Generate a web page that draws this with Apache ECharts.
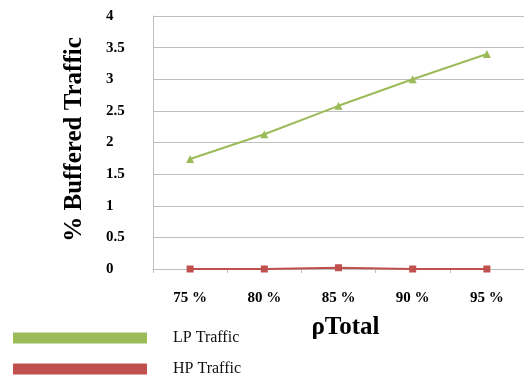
<!DOCTYPE html>
<html>
<head>
<meta charset="utf-8">
<script src="https://cdn.jsdelivr.net/npm/echarts@6/dist/echarts.min.js"></script>
<style>
  html, body { margin: 0; padding: 0; background: #fff; }
  #chart { width: 524px; height: 383px; }
</style>
</head>
<body>
<div id="chart"></div>
<script>
// Offered load categories and buffered traffic percentages
const loadLabels = ['75 %', '80 %', '85 %', '90 %', '95 %'];
const lpTraffic = [1.74, 2.13, 2.58, 3.0, 3.4];
const hpTraffic = [0.0, 0.0, 0.02, 0.0, 0.0];
const yTicks = { min: 0, max: 4, interval: 0.5 };

const serif = '"Liberation Serif", "Times New Roman", serif';
const chart = echarts.init(document.getElementById('chart'));

// One legend row per series, stacked at the bottom-left
function legendRow(name, top) {
  return {
    orient: 'horizontal',
    left: 8,
    top: top,
    icon: 'rect',
    itemWidth: 134,
    itemHeight: 11,
    textStyle: { fontFamily: serif, fontSize: 16, color: '#111', padding: [0, 0, 0, 21] },
    data: [name]
  };
}

chart.setOption({
  animation: false,
  grid: { left: 153, right: 0, top: 16, bottom: 114, containLabel: false },
  legend: [legendRow('LP Traffic', 325), legendRow('HP Traffic', 356)],
  xAxis: {
    type: 'category',
    data: loadLabels,
    boundaryGap: true,
    name: 'ρTotal',
    nameLocation: 'middle',
    nameGap: 46,
    nameTextStyle: { fontFamily: serif, fontSize: 25, fontWeight: 'bold', color: '#000', padding: [0, 0, 0, 14] },
    axisLine: { lineStyle: { color: '#bfbfbf', width: 1 } },
    axisTick: { show: true, alignWithLabel: false, length: 4, lineStyle: { color: '#bfbfbf' } },
    axisLabel: { fontFamily: serif, fontSize: 15, fontWeight: 'bold', color: '#000', margin: 22 }
  },
  yAxis: {
    type: 'value',
    min: yTicks.min,
    max: yTicks.max,
    interval: yTicks.interval,
    name: '% Buffered Traffic',
    nameLocation: 'middle',
    nameGap: 66,
    nameTextStyle: { fontFamily: serif, fontSize: 25, fontWeight: 'bold', color: '#000', padding: [0, 0, 0, 6] },
    axisLine: { show: true, lineStyle: { color: '#bfbfbf', width: 1 } },
    axisTick: { show: false },
    splitLine: { show: true, lineStyle: { color: '#bfbfbf', width: 1 } },
    axisLabel: {
      fontFamily: serif, fontSize: 15, fontWeight: 'bold', color: '#000',
      align: 'left', margin: 47
    }
  },
  series: [
    {
      name: 'LP Traffic',
      type: 'line',
      data: lpTraffic,
      symbol: 'triangle',
      symbolSize: 8,
      itemStyle: { color: '#9BBB59' },
      lineStyle: { color: '#9BBB59', width: 2 }
    },
    {
      name: 'HP Traffic',
      type: 'line',
      data: hpTraffic,
      symbol: 'rect',
      symbolSize: 7,
      itemStyle: { color: '#C0504D' },
      lineStyle: { color: '#C0504D', width: 2 }
    }
  ]
});
</script>
</body>
</html>
